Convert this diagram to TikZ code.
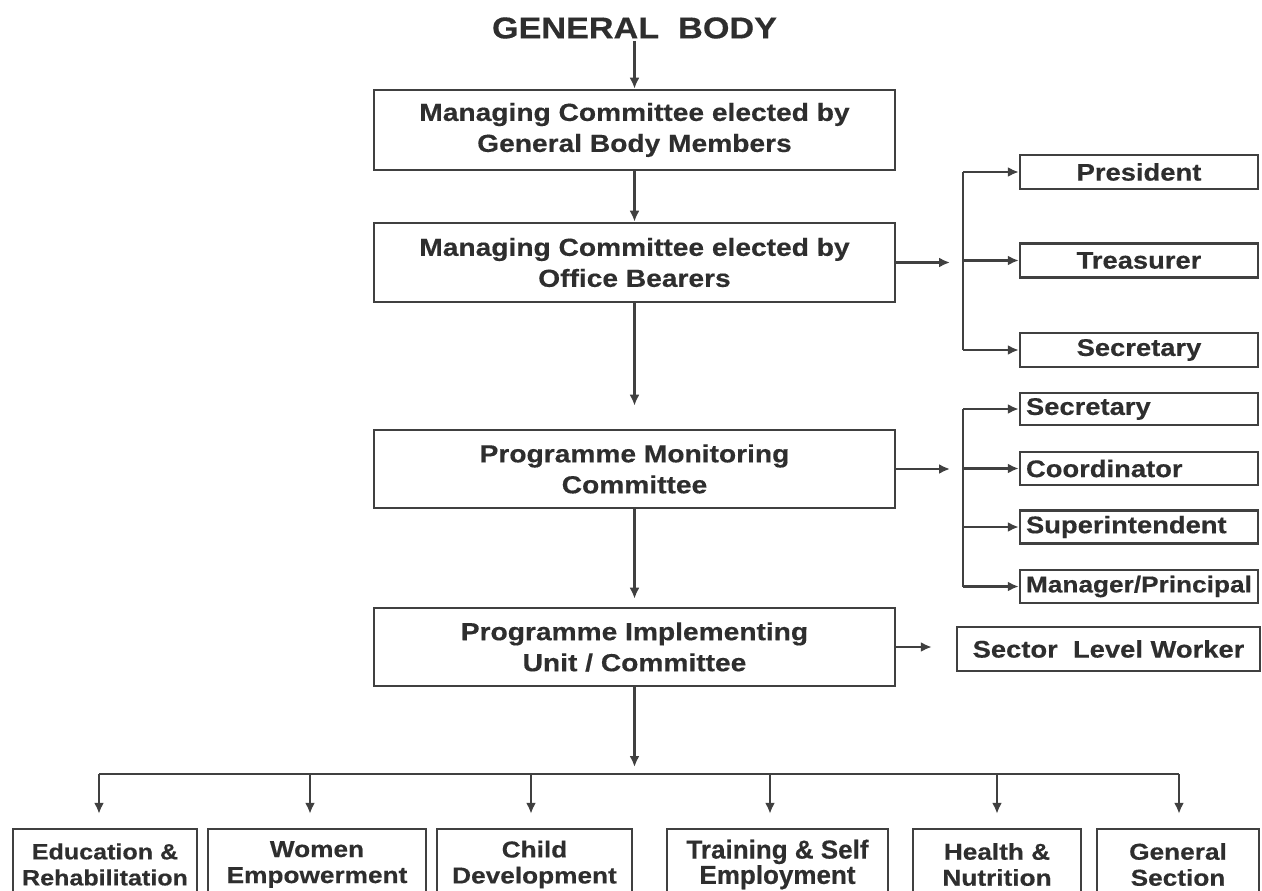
\documentclass[tikz,border=0pt]{standalone}
\usepackage{fontspec}
\usetikzlibrary{arrows.meta}
\newfontfamily\lab{Liberation Sans}[FakeStretch=1.14, BoldFeatures={FakeBold=0.4}]
\newfontfamily\labn{Liberation Sans}[BoldFeatures={FakeBold=0.4}]
\definecolor{lc}{HTML}{404040}
\definecolor{tc}{HTML}{2E2E2E}
\begin{document}
\begin{tikzpicture}[x=1pt,y=-1pt,
  line/.style={draw=lc, line width=2.2pt},
  arr/.style={line, -{Latex[length=11pt,width=10pt]}},
  mainbox/.style={draw=lc, line width=2.6pt, fill=white, inner sep=0pt, align=center,
    text=tc, minimum width=521pt, font=\lab\bfseries\fontsize{24.7}{31}\selectfont},
  sidebox/.style={draw=lc, line width=2.4pt, fill=white, inner ysep=0pt, inner xsep=0pt,
    text=tc, minimum width=238pt, minimum height=34pt, font=\lab\bfseries\fontsize{24}{28}\selectfont},
  leftbox/.style={sidebox, align=left, text width=226pt, inner xsep=6pt, minimum width=0pt},
  botbox/.style={draw=lc, line width=2.4pt, fill=white, inner sep=0pt, align=center,
    text=tc, minimum height=71pt, font=\lab\bfseries\fontsize{23}{26}\selectfont},
  title/.style={text=tc, inner sep=2pt, font=\lab\bfseries\fontsize{30}{34}\selectfont}]
\useasboundingbox (0,0) rectangle (1262,891);
\clip (0,0) rectangle (1262,891);

% title
\node[title] (gb) at (634.5,28) {GENERAL\ \ BODY};

% main column
\node[mainbox, minimum height=80pt] (b1) at (634.5,130) {Managing Committee elected by\\General Body Members};
\node[mainbox, minimum height=79pt] (b2) at (634.5,262.5) {Managing Committee elected by\\Office Bearers};
\node[mainbox, minimum height=78pt] (b3) at (634.5,469) {Programme Monitoring\\Committee};
\node[mainbox, minimum height=78pt] (b4) at (634.5,647) {Programme Implementing\\Unit / Committee};

\draw[arr] (gb.south) -- (b1.north);
\draw[arr] (b1.south) -- (b2.north);
\draw[arr, shorten >=23pt] (b2.south) -- (b3.north);
\draw[arr, shorten >=8pt] (b3.south) -- (b4.north);

% office bearers
\node[sidebox] (pr) at (1139,172) {President};
\node[sidebox] (tr) at (1139,260.5) {Treasurer};
\node[sidebox] (se) at (1139,350) {Secretary};
\coordinate (j1) at (950,262.5);
\coordinate (v1t) at (963,172);
\coordinate (v1m) at (963,260.5);
\coordinate (v1b) at (963,350);
\draw[arr] (b2.east) -- (j1);
\draw[line] (v1t) -- (v1b);
\draw[arr] (v1t) -- (pr.west);
\draw[arr] (v1m) -- (tr.west);
\draw[arr] (v1b) -- (se.west);

% monitoring staff
\node[leftbox, minimum height=32pt] (s2) at (1139,409) {Secretary};
\node[leftbox, minimum height=33pt] (co) at (1139,468.5) {Coordinator};
\node[leftbox, minimum height=33pt] (su) at (1139,527) {Superintendent};
\node[leftbox, minimum height=33pt, font=\lab\bfseries\fontsize{23}{28}\selectfont] (mp) at (1139,586.5) {Manager/Principal};
\coordinate (j2) at (950,469);
\coordinate (v2a) at (963,409);
\coordinate (v2b) at (963,468.5);
\coordinate (v2c) at (963,527);
\coordinate (v2d) at (963,586.5);
\draw[arr] (b3.east) -- (j2);
\draw[line] (v2a) -- (v2d);
\draw[arr] (v2a) -- (s2.west);
\draw[arr] (v2b) -- (co.west);
\draw[arr] (v2c) -- (su.west);
\draw[arr] (v2d) -- (mp.west);

% sector level worker
\node[sidebox, minimum width=303pt, minimum height=44pt] (sw) at (1108.5,649) {Sector\ \ Level Worker};
\draw[arr, shorten >=24pt] (b4.east) -- (sw.west |- b4.east);

% bottom sections
\node[botbox, minimum width=184pt, font=\lab\bfseries\fontsize{22}{26}\selectfont] (e1) at (105,864.5) {Education \&\\Rehabilitation};
\node[botbox, minimum width=218pt] (e2) at (317,864.5) {Women\\Empowerment};
\node[botbox, minimum width=195pt] (e3) at (534.5,864.5) {Child\\Development};
\node[botbox, minimum width=221pt, font=\labn\bfseries\fontsize{26}{22}\selectfont] (e4) at (777.5,864.5) {Training \& Self\\Employment};
\node[botbox, minimum width=168pt] (e5) at (997,864.5) {Health \&\\Nutrition};
\node[botbox, minimum width=162pt] (e6) at (1178,864.5) {General\\Section};

\coordinate (bc) at (634.5,774);
\coordinate (d1) at (99,774);
\coordinate (d2) at (310,774);
\coordinate (d3) at (531,774);
\coordinate (d4) at (770,774);
\coordinate (d5) at (997,774);
\coordinate (d6) at (1179,774);
\draw[arr, shorten >=7pt] (b4.south) -- (bc);
\draw[line] (d1) -- (d6);
\draw[arr, shorten >=14pt] (d1) -- (d1 |- e1.north);
\draw[arr, shorten >=14pt] (d2) -- (d2 |- e2.north);
\draw[arr, shorten >=14pt] (d3) -- (d3 |- e3.north);
\draw[arr, shorten >=14pt] (d4) -- (d4 |- e4.north);
\draw[arr, shorten >=14pt] (d5) -- (d5 |- e5.north);
\draw[arr, shorten >=14pt] (d6) -- (d6 |- e6.north);
\end{tikzpicture}
\end{document}
